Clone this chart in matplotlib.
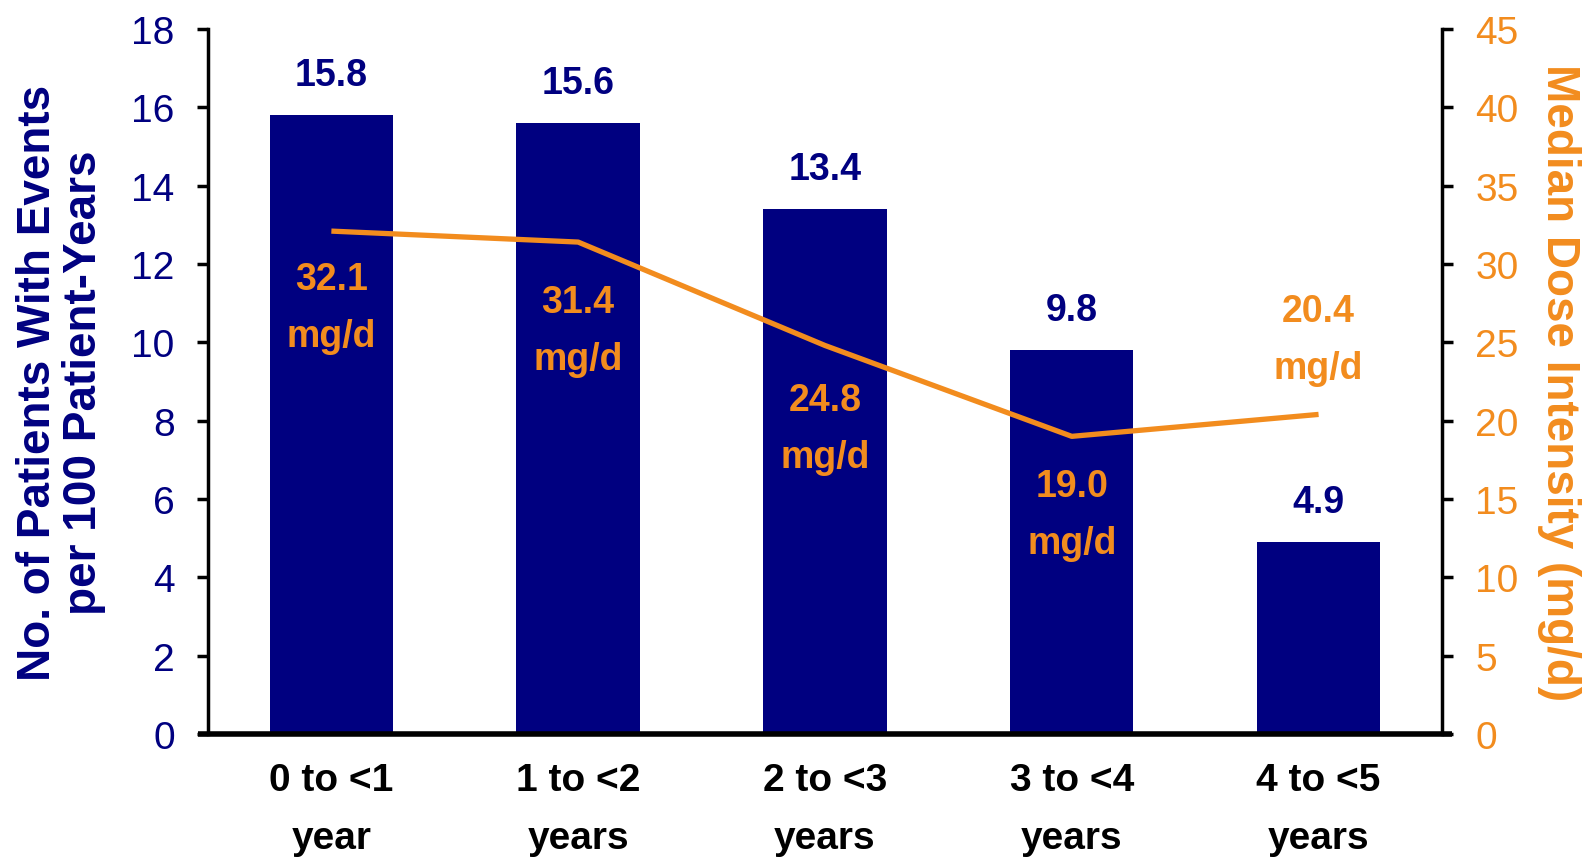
import matplotlib.pyplot as plt
import numpy as np

plt.rcParams['font.family'] = ['Liberation Sans', 'DejaVu Sans']

# chart data
periods = ['0 to <1\nyear', '1 to <2\nyears', '2 to <3\nyears', '3 to <4\nyears', '4 to <5\nyears']
event_rate = [15.8, 15.6, 13.4, 9.8, 4.9]
dose_intensity = [32.1, 31.4, 24.8, 19.0, 20.4]

navy = '#000080'
orange = '#F28C1E'

fig = plt.figure(figsize=(15.9, 8.62), dpi=100)
ax = fig.add_axes([0.1308, 0.1473, 0.7761, 0.8179])
x = np.arange(len(periods))

ax.bar(x, event_rate, width=0.5, color=navy, zorder=2)
ax.set_xlim(-0.5, len(periods) - 0.5)
ax.set_ylim(0, 18)
ax.set_yticks(np.arange(0, 19, 2))
ax.set_xticks(x)
ax.set_xticklabels(periods, fontsize=28, fontweight='bold', linespacing=1.8)
ax.tick_params(axis='x', length=0, pad=20)
ax.tick_params(axis='y', labelsize=28, labelcolor=navy, length=8, width=2.5,
               direction='out', pad=16)
for side in ['top', 'right']:
    ax.spines[side].set_visible(False)
ax.spines['left'].set_linewidth(2.5)
ax.spines['bottom'].set_visible(False)
# x axis line runs a little past both y axes
ax.plot([-0.008, 1.008], [0, 0], transform=ax.transAxes, color='black',
        lw=4, clip_on=False, zorder=5, solid_capstyle='butt')

for xi, v in zip(x, event_rate):
    ax.annotate(f'{v:.1f}', (xi, v), xytext=(0, 29), textcoords='offset points',
                ha='center', va='center', fontsize=27, fontweight='bold', color=navy)

ax.set_ylabel('No. of Patients With Events\nper 100 Patient-Years', fontsize=33,
              fontweight='bold', color=navy, linespacing=1.08, labelpad=18)

ax2 = ax.twinx()
ax2.set_ylim(0, 45)
ax2.set_yticks(np.arange(0, 46, 5))
ax2.plot(x, dose_intensity, color=orange, lw=3.8, zorder=3, solid_capstyle='butt')
ax2.tick_params(axis='y', labelsize=28, labelcolor=orange, length=8, width=2.5,
                direction='out', pad=16)
for side in ['top', 'left', 'bottom']:
    ax2.spines[side].set_visible(False)
ax2.spines['right'].set_linewidth(2.5)
ax2.set_ylabel('Median Dose Intensity (mg/d)', fontsize=33, fontweight='bold',
               color=orange, rotation=-90, va='bottom', labelpad=13)

label_offsets = [-55, -64, -60, -56, 54]
for xi, v, dy in zip(x, dose_intensity, label_offsets):
    ax2.annotate(f'{v:.1f}\nmg/d', (xi, v), xytext=(0, dy), textcoords='offset points',
                 ha='center', va='center', fontsize=27, fontweight='bold',
                 color=orange, linespacing=1.75)

fig.savefig('out.png', dpi=100)
